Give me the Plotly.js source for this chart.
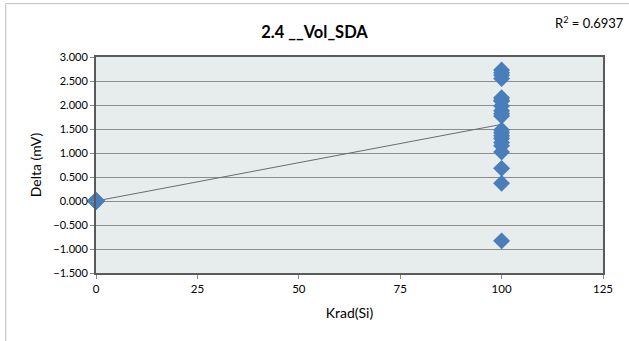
<!DOCTYPE html>
<html>
<head>
<meta charset="utf-8">
<script src="https://cdn.plot.ly/plotly-3.0.1.min.js"></script>
<style>html,body{margin:0;padding:0;background:#fff;}#chart{width:629px;height:341px;}</style>
</head>
<body>
<div id="chart"></div>
<script>
// Dose (Krad(Si)) for each measured unit
const doseZero = [0,0,0,0,0,0,0,0,0,0,0,0,0,0,0,0,0,0,0,0,0];
const deltaZero = [0,0,0,0,0,0,0,0,0,0,0,0,0,0,0,0,0,0,0,0,0];
const dose100 = [100,100,100,100,100,100,100,100,100,100,100,100,100,100,100,100,100,100,100,100,100];
const delta100 = [2.73,2.67,2.62,2.55,2.15,2.10,2.08,1.98,1.88,1.82,1.77,1.48,1.42,1.36,1.30,1.22,1.15,1.02,0.68,0.37,-0.83];
const xTicks = [0,25,50,75,100,125];
const yTicks = [-1.5,-1,-0.5,0,0.5,1,1.5,2,2.5,3];
const titleText = "2.4 __Vol_SDA";
const r2Text = "R<sup>2</sup> = 0.6937";

const xs = doseZero.concat(dose100);
const ys = deltaZero.concat(delta100);
// linear least-squares trendline
const n = xs.length;
const mx = xs.reduce((a,b)=>a+b,0)/n, my = ys.reduce((a,b)=>a+b,0)/n;
let sxy=0, sxx=0;
for(let i=0;i<n;i++){sxy+=(xs[i]-mx)*(ys[i]-my);sxx+=(xs[i]-mx)*(xs[i]-mx);}
const slope = sxy/sxx, icpt = my - slope*mx;
const trendX = [0,100];
const trendY = trendX.map(x=>icpt+slope*x);

const font = "Lato, 'Liberation Sans', sans-serif";
const data = [
  {x: trendX, y: trendY, mode:'lines', line:{color:'#6b6b6b', width:1}, hoverinfo:'skip', cliponaxis:false},
  {x: xs, y: ys, mode:'markers', marker:{symbol:'diamond', size:13, color:'#4a7ebb'}, cliponaxis:false}
];
const layout = {
  width:629, height:341,
  margin:{l:96, r:26, t:57, b:68},
  paper_bgcolor:'#ffffff', plot_bgcolor:'#e7ecec',
  showlegend:false,
  font:{family:font, color:'#000', size:11},
  title:{text:'<b>'+titleText+'</b>', x:0.5, xanchor:'center', y:0.905, yanchor:'middle', font:{size:16.5, family:font}},
  xaxis:{range:[0,125], tickvals:xTicks, ticks:'outside', ticklen:4, tickcolor:'#888', showgrid:false, zeroline:false,
    showline:true, linecolor:'#5a5a5a', linewidth:2, mirror:true,
    title:{text:'Krad(Si)', font:{size:14, family:font}, standoff:14}, tickfont:{size:11.5}},
  yaxis:{range:[-1.5,3], tickvals:yTicks, tickformat:'.3f', ticks:'outside', ticklen:4, tickcolor:'#888',
    showgrid:true, gridcolor:'#8c8c8c', gridwidth:1, zeroline:false,
    showline:true, linecolor:'#5a5a5a', linewidth:2, mirror:true,
    title:{text:'Delta (mV)', font:{size:14, family:font}, standoff:8}, tickfont:{size:11}},
  annotations:[{xref:'paper', yref:'paper', x:1.046, y:1.162, xanchor:'right', yanchor:'middle', text:r2Text, showarrow:false, font:{size:13, family:font}}],
  shapes:[{type:'rect', xref:'paper', yref:'paper', x0:-0.178, x1:1.2, y0:-0.5, y1:1.247, line:{color:'#bdbdbd', width:1}, layer:'below'}]
};
Plotly.newPlot('chart', data, layout, {displayModeBar:false, staticPlot:true});
</script>
</body>
</html>
